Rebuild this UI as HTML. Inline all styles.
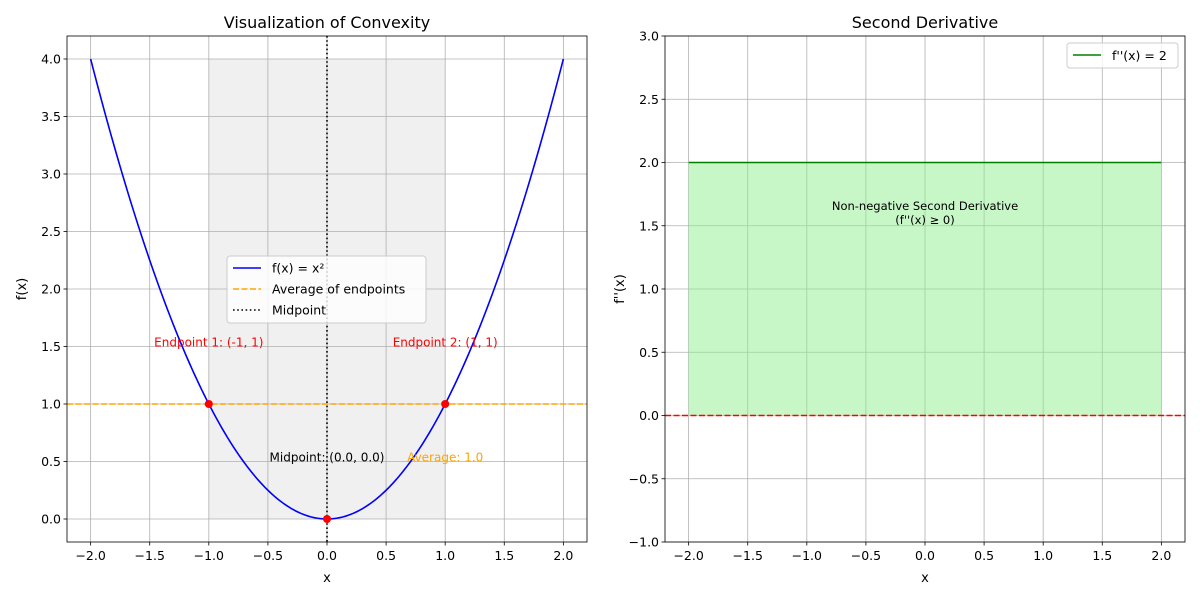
<!DOCTYPE html>
<html><head><meta charset="utf-8"><style>body{margin:0;background:#fff}svg{font-family:"DejaVu Sans","Liberation Sans",sans-serif}</style></head>
<body>
<svg id="c" width="1200" height="600" xmlns="http://www.w3.org/2000/svg"></svg>
<script>
const leftXTicks=[-2.0,-1.5,-1.0,-0.5,0.0,0.5,1.0,1.5,2.0];
const leftYTicks=[0.0,0.5,1.0,1.5,2.0,2.5,3.0,3.5,4.0];
const rightXTicks=[-2.0,-1.5,-1.0,-0.5,0.0,0.5,1.0,1.5,2.0];
const rightYTicks=[-1.0,-0.5,0.0,0.5,1.0,1.5,2.0,2.5,3.0];
const endpointsX=[-1,1];
const endpointsY=[1,1];
const midpointXY=[0,0];
const averageValue=[1.0];
const secondDerivValue=[2];
const fRange=[-2,2];

const S=document.getElementById('c');
const NS='http://www.w3.org/2000/svg';
function el(t,a,txt){const e=document.createElementNS(NS,t);for(const k in a)e.setAttribute(k,a[k]);if(txt!==undefined)e.textContent=txt;S.appendChild(e);return e;}
function fmt(v){return (v<0?'\u2212':'')+Math.abs(v).toFixed(1);}

function axes(L,R,T,B,xmin,xmax,ymin,ymax){
  return {X:v=>L+(v-xmin)/(xmax-xmin)*(R-L),Y:v=>B-(v-ymin)/(ymax-ymin)*(B-T),L,R,T,B};
}
function drawGrid(a,xt,yt,pfx){
  xt.forEach(v=>{const g=el('line',{x1:a.X(v),x2:a.X(v),y1:a.T,y2:a.B,stroke:'#b0b0b0','stroke-width':0.8});
    });
  yt.forEach(v=>{const g=el('line',{x1:a.L,x2:a.R,y1:a.Y(v),y2:a.Y(v),stroke:'#b0b0b0','stroke-width':0.8});
    });
}
function drawFrame(a,xt,yt,pfx,title,xl,yl){
  const r=el('rect',{x:a.L,y:a.T,width:a.R-a.L,height:a.B-a.T,fill:'none',stroke:'#000','stroke-width':0.8});
  
  xt.forEach(v=>{el('line',{x1:a.X(v),x2:a.X(v),y1:a.B,y2:a.B+3.5,stroke:'#000','stroke-width':0.8});
    const t=el('text',{x:a.X(v),y:a.B+18,'font-size':12.5,'text-anchor':'middle'},fmt(v));
    });
  yt.forEach(v=>{el('line',{x1:a.L-3.5,x2:a.L,y1:a.Y(v),y2:a.Y(v),stroke:'#000','stroke-width':0.8});
    const t=el('text',{x:a.L-6,y:a.Y(v)+4.5,'font-size':12.5,'text-anchor':'end'},fmt(v));
    });
  let t=el('text',{x:(a.L+a.R)/2,y:a.T-8,'font-size':16,'text-anchor':'middle'},title);
  
  t=el('text',{x:(a.L+a.R)/2,y:a.B+40,'font-size':13,'text-anchor':'middle'},xl);
  
  t=el('text',{x:0,y:0,'font-size':13,'text-anchor':'middle',transform:`translate(${a.L-41},${(a.T+a.B)/2}) rotate(-90)`},yl);
  
}

// LEFT
const A=axes(67,587,36,542,-2.2,2.2,-0.2,4.2);
let e=el('rect',{x:A.X(endpointsX[0]),y:A.Y(4),width:A.X(endpointsX[1])-A.X(endpointsX[0]),height:A.Y(0)-A.Y(4),fill:'#f0f0f0'});

drawGrid(A,leftXTicks,leftYTicks,'left');
let d='';for(let i=0;i<=200;i++){const x=fRange[0]+(fRange[1]-fRange[0])*i/200;d+=(i?'L':'M')+A.X(x)+','+A.Y(x*x);}
e=el('path',{d,fill:'none',stroke:'#0000ff','stroke-width':1.6});

e=el('line',{x1:A.L,x2:A.R,y1:A.Y(averageValue[0]),y2:A.Y(averageValue[0]),stroke:'orange','stroke-width':1.6,'stroke-dasharray':'6,2.5'});

e=el('line',{x1:A.X(midpointXY[0]),x2:A.X(midpointXY[0]),y1:A.T,y2:A.B,stroke:'#000','stroke-width':1.6,'stroke-dasharray':'1.6,2.6'});

endpointsX.forEach((x,i)=>{const p=el('circle',{cx:A.X(x),cy:A.Y(endpointsY[i]),r:4,fill:'red'});
  
  const t=el('text',{x:A.X(x),y:A.Y(1.5)+0,'font-size':12,fill:'red','text-anchor':'middle'},`Endpoint ${i+1}: (${x}, ${endpointsY[i]})`);
  });
e=el('circle',{cx:A.X(midpointXY[0]),cy:A.Y(midpointXY[1]),r:4,fill:'red'});

e=el('text',{x:A.X(0),y:A.Y(0.5)+0,'font-size':12,'text-anchor':'middle'},`Midpoint: (${midpointXY[0].toFixed(1)}, ${midpointXY[1].toFixed(1)})`);

e=el('text',{x:A.X(1),y:A.Y(0.5)+0,'font-size':12,fill:'orange','text-anchor':'middle'},`Average: ${averageValue[0].toFixed(1)}`);

drawFrame(A,leftXTicks,leftYTicks,'left','Visualization of Convexity','x','f(x)');
// legend left
e=el('rect',{x:227,y:256,width:199,height:67,rx:3,fill:'#fff','fill-opacity':0.8,stroke:'#ccc'});

[['f(x) = x²','#0000ff',''],['Average of endpoints','orange','6,2.5'],['Midpoint','#000','1.6,2.6']].forEach((L,i)=>{
  const y=268+i*21;el('line',{x1:233,x2:261,y1:y,y2:y,stroke:L[1],'stroke-width':1.6,'stroke-dasharray':L[2]});
  const t=el('text',{x:272,y:y+4.5,'font-size':12.5},L[0]);});

// RIGHT
const B=axes(665,1185,36,542,-2.2,2.2,-1,3);
drawGrid(B,rightXTicks,rightYTicks,'right');
e=el('rect',{x:B.X(fRange[0]),y:B.Y(secondDerivValue[0]),width:B.X(fRange[1])-B.X(fRange[0]),height:B.Y(0)-B.Y(secondDerivValue[0]),fill:'#90ee90','fill-opacity':0.5});

e=el('line',{x1:B.X(fRange[0]),x2:B.X(fRange[1]),y1:B.Y(secondDerivValue[0]),y2:B.Y(secondDerivValue[0]),stroke:'green','stroke-width':1.6});

e=el('line',{x1:B.L,x2:B.R,y1:B.Y(0),y2:B.Y(0),stroke:'red','stroke-width':1.6,'stroke-dasharray':'6,2.5'});

e=el('text',{x:B.X(0),y:B.Y(1.6)-3,'font-size':11.5,'text-anchor':'middle'},'Non-negative Second Derivative');

e=el('text',{x:B.X(0),y:B.Y(1.6)+11,'font-size':11.5,'text-anchor':'middle'},"(f''(x) ≥ 0)");

drawFrame(B,rightXTicks,rightYTicks,'right','Second Derivative','x',"f''(x)");
e=el('rect',{x:1067,y:43,width:111,height:25,rx:3,fill:'#fff','fill-opacity':0.8,stroke:'#ccc'});

el('line',{x1:1073,x2:1101,y1:55,y2:55,stroke:'green','stroke-width':1.6});
e=el('text',{x:1112,y:60,'font-size':12.5},"f''(x) = 2");

</script>
</body></html>
